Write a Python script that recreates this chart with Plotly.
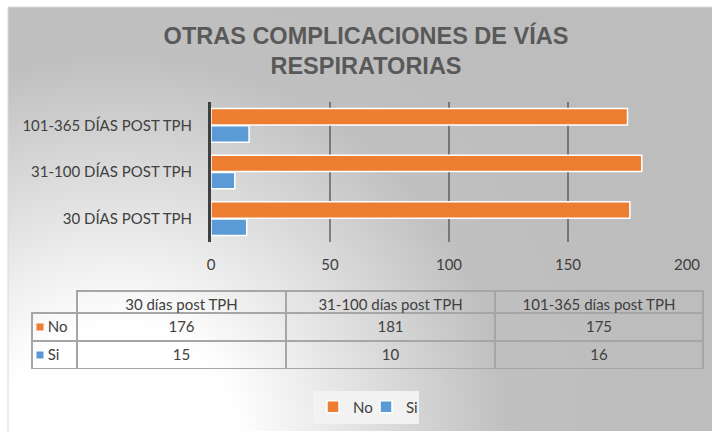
import plotly.graph_objects as go
import urllib.parse

categories = ["30 DÍAS POST TPH", "31-100 DÍAS POST TPH", "101-365 DÍAS POST TPH"]
table_headers = ["30 días post TPH", "31-100 días post TPH", "101-365 días post TPH"]
series_names = ["No", "Si"]
no_values = [176, 181, 175]
si_values = [15, 10, 16]
x_ticks = [0, 50, 100, 150, 200]

W, H = 712, 431
ORANGE = "#ED7D31"
BLUE = "#5B9BD5"
TXT = "#404040"
FONT = "Lato"
GRID_LINE = "#a6a6a6"

def px_x(p):
    return p / W

def px_y(p):
    return (H - p) / H

fig = go.Figure()
fig.add_trace(go.Bar(
    y=categories, x=si_values, name=series_names[1], orientation="h",
    marker=dict(color=BLUE, line=dict(color="white", width=1.5)),
    legendrank=2, hoverinfo="skip",
))
fig.add_trace(go.Bar(
    y=categories, x=no_values, name=series_names[0], orientation="h",
    marker=dict(color=ORANGE, line=dict(color="white", width=1.5)),
    legendrank=1, hoverinfo="skip",
))

# table geometry (pixels)
T_LEFT, T_RIGHT, T_TOP, T_BOTTOM = 32, 703, 291, 369
HEADER_H, ROW_H = 22, 28
nbsp = "\u00a0\u00a0"

fig.add_trace(go.Table(
    domain=dict(x=[px_x(T_LEFT), px_x(T_RIGHT)], y=[px_y(T_BOTTOM), px_y(T_TOP)]),
    columnwidth=[45, 209, 209, 208],
    header=dict(
        values=[""] + table_headers,
        height=HEADER_H,
        fill=dict(color="rgba(0,0,0,0)"),
        line=dict(color=["rgba(0,0,0,0)", GRID_LINE, GRID_LINE, GRID_LINE], width=2),
        font=dict(family=FONT, size=15, color=TXT),
        align="center",
    ),
    cells=dict(
        values=[
            [nbsp + series_names[0], nbsp + series_names[1]],
            [no_values[0], si_values[0]],
            [no_values[1], si_values[1]],
            [no_values[2], si_values[2]],
        ],
        height=ROW_H,
        fill=dict(color="rgba(0,0,0,0)"),
        line=dict(color=GRID_LINE, width=2),
        font=dict(family=FONT, size=15, color=TXT),
        align=["left", "center", "center", "center"],
    ),
))

svg = (
    "<svg xmlns='http://www.w3.org/2000/svg' width='712' height='431'>"
    "<defs><radialGradient id='g' gradientUnits='userSpaceOnUse' cx='110' cy='440' r='540'>"
    "<stop offset='0' stop-color='#ffffff'/>"
    "<stop offset='0.22' stop-color='#ffffff'/>"
    "<stop offset='0.72' stop-color='#c0c0c0'/>"
    "<stop offset='1' stop-color='#bdbdbd'/>"
    "</radialGradient></defs>"
    "<rect x='0' y='0' width='712' height='431' fill='url(#g)'/></svg>"
)
uri = "data:image/svg+xml;charset=utf-8," + urllib.parse.quote(svg)

# legend key squares inside table's first column
key_shapes = []
for i, col in enumerate([ORANGE, BLUE]):
    cy = T_TOP + HEADER_H + ROW_H * i + ROW_H / 2
    key_shapes.append(dict(
        type="rect", xref="paper", yref="paper",
        x0=px_x(36.5), x1=px_x(43.5), y0=px_y(cy + 3.5), y1=px_y(cy - 3.5),
        fillcolor=col, line=dict(width=0),
    ))

fig.update_layout(
    width=W, height=H,
    margin=dict(l=0, r=0, t=0, b=0, autoexpand=False),
    paper_bgcolor="white",
    plot_bgcolor="rgba(0,0,0,0)",
    barmode="group",
    bargap=0.26,
    bargroupgap=0.05,
    images=[dict(
        source=uri, xref="paper", yref="paper",
        x=px_x(8), y=px_y(7), sizex=1 - px_x(8) + 0.01, sizey=px_y(7) + 0.01,
        xanchor="left", yanchor="top", sizing="stretch", layer="below",
    )],
    shapes=[dict(
        type="rect", xref="paper", yref="paper",
        x0=px_x(8), x1=1.01, y0=-0.01, y1=px_y(7),
        line=dict(color="#d9d9d9", width=1), fillcolor="rgba(0,0,0,0)", layer="below",
    )] + key_shapes,
    title=dict(
        text="OTRAS COMPLICACIONES DE VÍAS<br>RESPIRATORIAS",
        x=px_x(366), xanchor="center",
        y=px_y(43.5), yanchor="middle", yref="container",
        font=dict(family="Liberation Sans", size=23.5, color="#595959", weight="bold"),
    ),
    xaxis=dict(
        domain=[px_x(211), px_x(687)],
        range=[0, 200],
        tickvals=x_ticks,
        showgrid=True, gridcolor="rgba(70,70,70,0.6)", gridwidth=2,
        zeroline=False, showline=False,
        tickfont=dict(family=FONT, size=15, color=TXT),
        ticklabelstandoff=12,
        automargin=False,
        fixedrange=True,
    ),
    yaxis=dict(
        domain=[px_y(242), px_y(102)],
        type="category",
        categoryorder="array", categoryarray=categories,
        showline=True, linecolor="#404040", linewidth=3,
        showgrid=False,
        tickfont=dict(family=FONT, size=15, color=TXT),
        ticklabelstandoff=13,
        automargin=False,
        fixedrange=True,
    ),
    legend=dict(
        orientation="h",
        x=px_x(366), xanchor="center",
        y=px_y(407), yanchor="middle",
        bgcolor="#f2f2f2",
        font=dict(family=FONT, size=15, color=TXT),
        itemwidth=30,
        entrywidth=8,
    ),
    showlegend=True,
)

fig.write_html(
    "out.html",
    config={"displayModeBar": False, "staticPlot": False},
    post_script="document.body.style.margin='0';document.body.style.overflow='hidden';",
)
